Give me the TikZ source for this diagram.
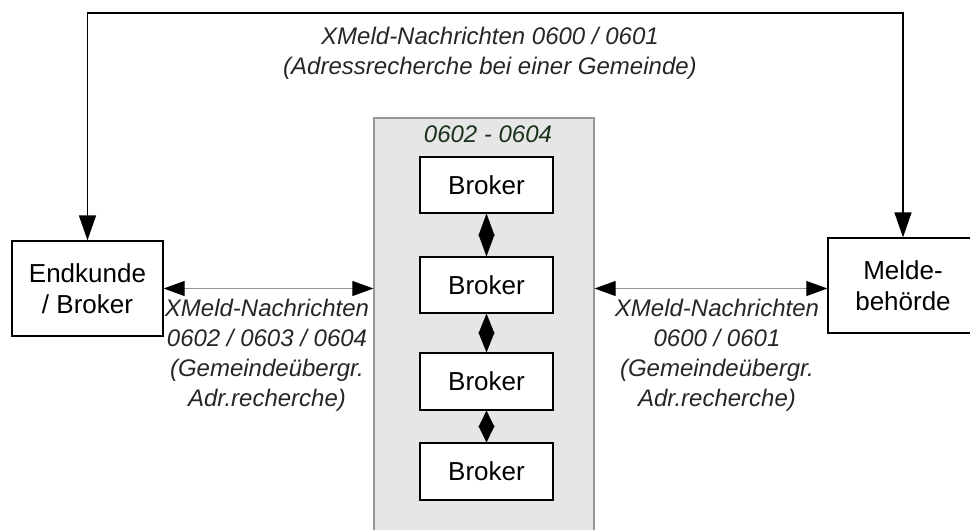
\documentclass[tikz,border=0pt]{standalone}
\usepackage{fontspec}
\setmainfont{Liberation Sans}
\usetikzlibrary{arrows.meta}

\definecolor{grpfill}{RGB}{230,230,230}
\definecolor{grpline}{RGB}{150,150,150}
\definecolor{msggreen}{RGB}{25,50,25}

\tikzset{
  box/.style={draw, line width=1.3pt, fill=white, inner sep=0pt,
    font=\fontsize{26}{31}\selectfont, align=center},
  msg/.style={font=\fontsize{24}{30}\selectfont\itshape, align=center, text=black!85},
  biarrow/.style={draw=grpline, line width=0.9pt,
    arrows={Triangle[length=21pt,width=15pt,black]-Triangle[length=21pt,width=15pt,black]}},
  diam/.style={line width=0.4pt,
    arrows={Triangle[length=#1,width=16pt]-Triangle[length=#1,width=16pt]}}
}

\begin{document}
\begin{tikzpicture}[x=1pt, y=-1pt]
  \useasboundingbox (0,0) rectangle (970,530);
  % outer parties
  \node[box, minimum width=151pt, minimum height=95pt] (endk) at (87.5,288.5) {Endkunde\\/ Broker};
  \node[box, minimum width=150pt, minimum height=95pt] (melde) at (903,285.5) {Melde-\\behörde};
  % broker group
  \node[draw=grpline, fill=grpfill, line width=1.2pt, minimum width=220pt, minimum height=422pt,
    inner sep=0pt] (grp) at (484,329) {};
  \node[msg, text=msggreen] (grplbl) at (488,134) {0602 - 0604};
  \node[box, minimum width=133pt, minimum height=56pt] (b1) at (486.5,185) {Broker};
  \node[box, minimum width=133pt, minimum height=56pt] (b2) at (486.5,285) {Broker};
  \node[box, minimum width=133pt, minimum height=57pt] (b3) at (486.5,381.5) {Broker};
  \node[box, minimum width=133pt, minimum height=57pt] (b4) at (486.5,471.5) {Broker};
  \draw[diam=22pt] (b1.south) -- (b2.north);
  \draw[diam=20pt] (b2.south) -- (b3.north);
  \draw[diam=16.5pt] (b3.south) -- (b4.north);
  % direct messages
  \coordinate (topl) at (87.5,13);
  \coordinate (topr) at (903,13);
  \draw[line width=1.5pt, arrows={Triangle[length=25pt,width=17pt]-Triangle[length=25pt,width=17pt]}]
    (endk.north) -- (topl) -- (topr) -- (melde.north);
  \node[msg] (toplbl) at (490,53) {XMeld-Nachrichten 0600 / 0601\\(Adressrecherche bei einer Gemeinde)};
  % messages through the brokers
  \draw[biarrow] (endk.east) -- (endk.east -| grp.west);
  \draw[biarrow] (grp.east |- endk.east) -- (endk.east -| melde.west);
  \node[msg] (leftlbl) at (267,355) {XMeld-Nachrichten\\0602 / 0603 / 0604\\(Gemeindeübergr.\\Adr.recherche)};
  \node[msg] (rightlbl) at (717,355) {XMeld-Nachrichten\\0600 / 0601\\(Gemeindeübergr.\\Adr.recherche)};
\end{tikzpicture}
\end{document}
